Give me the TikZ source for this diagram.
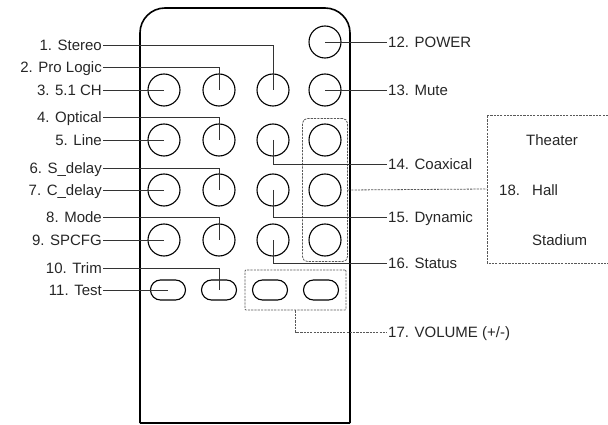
\documentclass[tikz,border=0pt]{standalone}
\usepackage{fontspec}
\setmainfont{Liberation Sans}
\usetikzlibrary{fit}

\begin{document}
\begin{tikzpicture}[x=1pt,y=-1pt,
    btn/.style={draw,circle,line width=1.1pt,minimum size=32pt,inner sep=0pt},
    oval/.style={draw,rounded corners=10pt,line width=1.1pt,
        minimum width=35pt,minimum height=20pt,inner sep=0pt},
    lbl/.style={font=\fontsize{15}{18}\selectfont,text=black!85,
        inner sep=1pt,text height=11pt,text depth=0pt},
    lead/.style={black!80,line width=0.8pt},
    grp/.style={draw=black!65,dash pattern=on 2.2pt off 1.1pt,line width=0.8pt,
        rounded corners=5pt}]
 \useasboundingbox (0,0) rectangle (608,425);
 % remote body
 \draw[line width=1.6pt] (140,423) [rounded corners=25pt] -- (140,8) -- (350,8) -- (350,423);
 \draw[line width=1.6pt] (140,423) -- (350,423);
 % buttons
 \node[btn] (pow) at (325,42) {};
 \foreach \r/\y in {1/90,2/140,3/190,4/240}
   \foreach \c/\x in {1/164,2/219,3/273,4/325}
     \node[btn] (b\r\c) at (\x,\y) {};
 \foreach \c/\x in {1/168,2/219,3/270,4/321}
   \node[oval] (o\c) at (\x,290) {};
 \node[grp,fit=(b24)(b44),inner xsep=6pt,inner ysep=5pt] (surr) {};
 \node[grp,rounded corners=1pt,fit=(o3)(o4),inner xsep=7pt,inner ysep=9.5pt] (vol) {};
 % left labels
 \node[lbl,anchor=east] (stereo) at (103,45) {1. Stereo};
 \node[lbl,anchor=east] (prologic) at (103,67) {2. Pro Logic};
 \node[lbl,anchor=east] (ch51) at (103,90) {3. 5.1 CH};
 \node[lbl,anchor=east] (optical) at (103,117) {4. Optical};
 \node[lbl,anchor=east] (line) at (103,140) {5. Line};
 \node[lbl,anchor=east] (sdelay) at (103,168) {6. S\_delay};
 \node[lbl,anchor=east] (cdelay) at (103,190) {7. C\_delay};
 \node[lbl,anchor=east] (mode) at (103,217) {8. Mode};
 \node[lbl,anchor=east] (spcfg) at (103,240) {9. SPCFG};
 \node[lbl,anchor=east] (trim) at (103,268) {10. Trim};
 \node[lbl,anchor=east] (test) at (103,290) {11. Test};
 % right labels
 \node[lbl,anchor=west] (power) at (387,42) {12. POWER};
 \node[lbl,anchor=west] (mute) at (387,90) {13. Mute};
 \node[lbl,anchor=west] (coax) at (387,164) {14. Coaxical};
 \node[lbl,anchor=west] (dynamic) at (387,217) {15. Dynamic};
 \node[lbl,anchor=west] (status) at (387,263) {16. Status};
 \node[lbl,anchor=west] (volume) at (387,332) {17. VOLUME (+/-)};
 % surround modes
 \draw[grp,rounded corners=0pt] (608,115) -- (487,115) -- (487,263) -- (608,263);
 \coordinate (modes) at (487,189);
 \node[lbl,anchor=west] (theater) at (525,140) {Theater};
 \node[lbl,anchor=west] (num18) at (498,190) {18.};
 \node[lbl,anchor=west] (hall) at (531,190) {Hall};
 \node[lbl,anchor=west] (stadium) at (531,240) {Stadium};
 % leaders
 \draw[lead] (stereo.east) -| (b13.center);
 \draw[lead] (prologic.east) -| (b12.center);
 \draw[lead] (ch51.east) -- (b11.center);
 \draw[lead] (optical.east) -| (b22.center);
 \draw[lead] (line.east) -- (b21.center);
 \draw[lead] (sdelay.east) -| (b32.center);
 \draw[lead] (cdelay.east) -- (b31.center);
 \draw[lead] (mode.east) -| (b42.center);
 \draw[lead] (spcfg.east) -- (b41.center);
 \draw[lead] (trim.east) -| (o2.center);
 \draw[lead] (test.east) -- (o1.center);
 \draw[lead] (pow.center) -- (power.west);
 \draw[lead] (b14.center) -- (mute.west);
 \draw[lead] (b23.center) |- (coax.west);
 \draw[lead] (b33.center) |- (dynamic.west);
 \draw[lead] (b43.center) |- (status.west);
 \draw[grp,rounded corners=0pt] (vol.south) |- (volume.west);
 \draw[grp,rounded corners=0pt] (surr.east) -- (modes);
\end{tikzpicture}
\end{document}
